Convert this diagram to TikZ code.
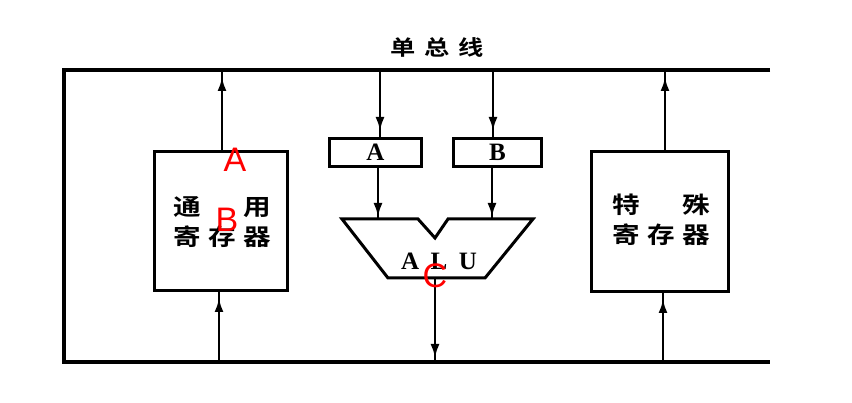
\documentclass[tikz,border=0pt]{standalone}
\usepackage{fontspec}
\setmainfont{Liberation Serif}
\setsansfont{Liberation Sans}
\newfontfamily\cjk{Noto Sans CJK SC Bold}[FakeStretch=1.2]
\usetikzlibrary{arrows.meta,decorations.markings}
\tikzset{
  bus/.style={line width=4pt},
  reg/.style={draw, line width=3pt, inner sep=0pt},
  conn/.style={line width=2.6pt, postaction={decorate},
    decoration={markings, mark=at position #1 with {\arrow{Latex[length=14pt,width=9pt]}}}},
  cjktext/.style={font=\cjk\fontsize{23}{30}\selectfont, align=center},
  latin/.style={font=\bfseries\fontsize{25}{25}\selectfont},
  redlab/.style={font=\sffamily\fontsize{34}{34}\selectfont, text=red, inner sep=0pt}
}
\begin{document}
\begin{tikzpicture}[x=1pt,y=-1pt]
\useasboundingbox (0,0) rectangle (852,403);
% bus
\draw[bus] (770,70) -- (64,70) -- (64,362) -- (770,362);
\node[font=\cjk\fontsize{21}{21}\selectfont] (title) at (437,47) {单\hspace{9pt}总\hspace{9pt}线};
% coordinates on bus
\coordinate (tL) at (222,70);
\coordinate (bL) at (219,362);
\coordinate (tA) at (380,70);
\coordinate (tB) at (493,70);
\coordinate (bC) at (435,362);
\coordinate (tR) at (665,70);
\coordinate (bR) at (663,362);
% registers
\node[reg, minimum width=133pt, minimum height=139pt] (gen) at (221,221) {};
\node[cjktext] (gentxt) at (222,222) {\makebox[98pt][s]{通\hfil 用}\\\makebox[98pt][s]{寄\hfil 存\hfil 器}};
\node[reg, minimum width=137pt, minimum height=140pt] (spec) at (660,221.5) {};
\node[cjktext] (spectxt) at (661,220) {\makebox[98pt][s]{特\hfil 殊}\\\makebox[98pt][s]{寄\hfil 存\hfil 器}};
\node[reg, latin, minimum width=92pt, minimum height=28pt] (A) at (375.5,152.5) {A};
\node[reg, latin, minimum width=88pt, minimum height=28pt] (B) at (497.5,152.5) {B};
% ALU
\coordinate (aluL) at (378,219);
\coordinate (aluR) at (492,219);
\coordinate (aluO) at (435,278);
\draw[line width=3pt, line join=miter] (342,219) -- (418,219) -- (435,238) -- (448,219) -- (533,219) -- (485,278) -- (388,278) -- cycle;
\node[latin] (alu) at (439,261) {\makebox[76pt][s]{A\hfil L\hfil U}};
% connectors
\draw[conn=-7pt] (gen.north -| tL) -- (tL);
\draw[conn=-6pt] (bL) -- (gen.south -| bL);
\draw[conn=-6pt] (tA) -- (A.north -| tA);
\draw[conn=-6pt] (tB) -- (B.north -| tB);
\draw[conn=-2pt] (A.south -| aluL) -- (aluL);
\draw[conn=-2pt] (B.south -| aluR) -- (aluR);
\draw[conn=-4pt] (aluO) -- (bC);
\draw[conn=-7pt] (spec.north -| tR) -- (tR);
\draw[conn=-6pt] (bR) -- (spec.south -| bR);
% red labels
\node[redlab] (la) at (235,160) {A};
\node[redlab] (lb) at (227,220) {B};
\node[redlab] (lc) at (435,276) {C};
\end{tikzpicture}
\end{document}
